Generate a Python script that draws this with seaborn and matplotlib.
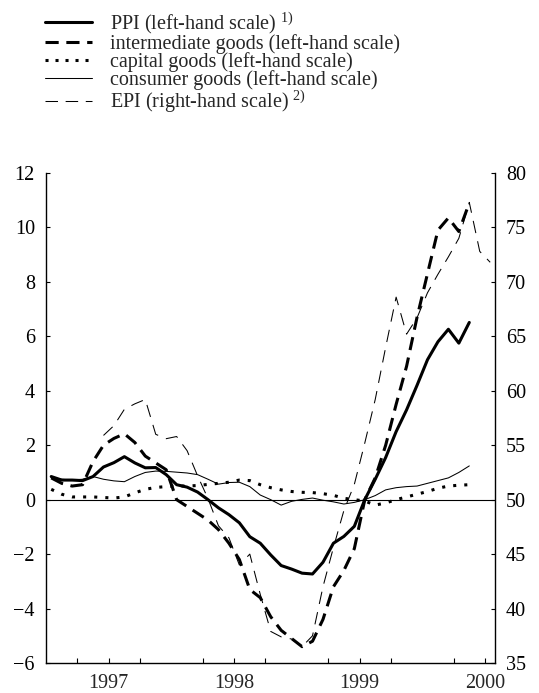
import numpy as np
import pandas as pd
import matplotlib
matplotlib.use("Agg")
import matplotlib.pyplot as plt
import seaborn as sns

# ---------------- data (monthly, Jan 1997 onward) ----------------
ppi = [0.85, 0.72, 0.72, 0.70, 0.85, 1.20, 1.36, 1.58, 1.35, 1.17, 1.18, 0.92,
       0.55, 0.46, 0.28, 0.00, -0.30, -0.55, -0.85, -1.36, -1.60, -2.03, -2.42, -2.55,
       -2.70, -2.73, -2.30, -1.60, -1.35, -0.98, 0.00, 0.75, 1.55, 2.50, 3.30, 4.20,
       5.14, 5.80, 6.26, 5.75, 6.51]
intermediate = [0.80, 0.60, 0.50, 0.55, 1.40, 2.00, 2.25, 2.42, 2.10, 1.60, 1.35, 1.10,
                0.00, -0.25, -0.50, -0.75, -1.10, -1.60, -2.20, -3.30, -3.60, -4.30, -4.80, -5.10,
                -5.40, -5.20, -4.40, -3.20, -2.60, -1.80, 0.00, 0.80, 2.00, 3.50, 4.90, 6.70,
                8.30, 9.90, 10.35, 9.85, 10.90]
capital = [0.38, 0.20, 0.10, 0.10, 0.10, 0.08, 0.06, 0.10, 0.25, 0.38, 0.45, 0.48,
           0.50, 0.50, 0.52, 0.56, 0.60, 0.64, 0.72, 0.70, 0.55, 0.44, 0.36, 0.30,
           0.27, 0.26, 0.22, 0.16, 0.05, 0.00, -0.05, -0.20, -0.12, 0.00, 0.10, 0.20,
           0.30, 0.42, 0.50, 0.53, 0.55]
consumer = [0.82, 0.75, 0.72, 0.75, 0.85, 0.75, 0.69, 0.66, 0.85, 1.00, 1.05, 1.04,
            1.01, 0.98, 0.92, 0.75, 0.57, 0.63, 0.64, 0.48, 0.17, 0.00, -0.20, -0.06,
            0.01, 0.06, -0.02, -0.08, -0.16, -0.10, 0.00, 0.15, 0.36, 0.44, 0.48, 0.50,
            0.60, 0.70, 0.80, 1.00, 1.24]
# EPI starts in June 1997
epi = [55.9, 56.8, 58.3, 58.8, 59.2, 56.0, 55.6,
       55.8, 54.5, 52.2, 50.1, 47.6, 46.5, 44.0, 45.0, 41.3, 37.9, 37.4, 37.2,
       36.5, 37.5, 42.0, 45.6, 49.0, 51.4, 55.2, 59.2, 64.0, 68.6, 65.2, 66.7,
       69.0, 70.7, 72.3, 74.0, 77.3, 72.8, 71.8]

year_labels = ["1997", "1998", "1999", "2000"]
labels = ["PPI (left-hand scale) $^{1)}$",
          "intermediate goods (left-hand scale)",
          "capital goods (left-hand scale)",
          "consumer goods (left-hand scale)",
          "EPI (right-hand scale) $^{2)}$"]

dates_left = pd.date_range("1997-01-01", periods=len(ppi), freq="MS")
dates_epi = pd.date_range("1997-06-01", periods=len(epi), freq="MS")
def dec(d):
    return d.year + (d.month - 1 + 0.5) / 12.0

df = pd.DataFrame({"t": dec(dates_left), "ppi": ppi, "inter": intermediate,
                   "cap": capital, "cons": consumer})
df_epi = pd.DataFrame({"t": dec(dates_epi), "epi": epi})

# ---------------- style ----------------
sns.set_theme(style="white")
plt.rcParams["font.family"] = ["Liberation Serif", "DejaVu Serif"]
plt.rcParams["mathtext.fontset"] = "custom"
plt.rcParams["mathtext.rm"] = "Liberation Serif"
plt.rcParams["mathtext.it"] = "Liberation Serif"
plt.rcParams["lines.scale_dashes"] = False
FS = 14.5
LFS = 14.5

fig = plt.figure(figsize=(5.39, 6.93), dpi=100)
ax = fig.add_axes([46/539, 1 - 663/693, (495-46)/539, (663-173)/693])
ax2 = ax.twinx()

thick = 2.2
thin = 0.75
dash_int = (0, (9.5, 5.5))
dot_cap = (0, (2.2, 5.8))
dash_epi = (0, (9, 6))
sns.lineplot(data=df, x="t", y="ppi", ax=ax, color="black", lw=thick, legend=False)
sns.lineplot(data=df, x="t", y="inter", ax=ax, color="black", lw=thick,
             linestyle=dash_int, dash_capstyle="butt", legend=False)
sns.lineplot(data=df, x="t", y="cap", ax=ax, color="black", lw=thick,
             linestyle=dot_cap, dash_capstyle="butt", legend=False)
sns.lineplot(data=df, x="t", y="cons", ax=ax, color="black", lw=thin, legend=False)
sns.lineplot(data=df_epi, x="t", y="epi", ax=ax2, color="black", lw=thin,
             linestyle=dash_epi, legend=False)

ax.axhline(0, color="black", lw=0.8, zorder=1)

ax.set_xlim(1997.0, 2000.58)
ax.set_ylim(-6, 12)
ax2.set_ylim(35, 80)
ax.set_yticks(np.arange(-6, 13, 2))
ax2.set_yticks(np.arange(35, 81, 5))
ax.set_xticks([1998, 1999, 2000])
ax.set_xticklabels([])
ax.set_xticks([1997 + q/4 for q in range(1, 15) if q % 4 != 0], minor=True)
ax.set_xlabel("")
ax.set_ylabel("")
ax2.set_ylabel("")

for a in (ax, ax2):
    a.spines["top"].set_visible(False)
    for s in a.spines.values():
        s.set_linewidth(1.0)
        s.set_color("black")
ax2.spines["left"].set_visible(False)
ax2.spines["bottom"].set_visible(False)
ax.spines["right"].set_visible(False)

ax.tick_params(axis="x", which="major", direction="in", length=7, width=1.0, colors="black")
ax.tick_params(axis="x", which="minor", direction="in", length=3.5, width=0.8, colors="black", bottom=True)
ax.tick_params(axis="y", direction="in", length=3, width=0.8, pad=8, labelsize=FS, colors="black")
ax2.tick_params(axis="y", direction="in", length=3, width=0.8, pad=8, labelsize=FS, colors="black")

for i, lab in enumerate(year_labels):
    ax.text(1997.5 + i, -0.022, lab, transform=ax.get_xaxis_transform(),
            ha="center", va="top", fontsize=FS)

from matplotlib.lines import Line2D
handles = [
    Line2D([], [], color="black", lw=thick),
    Line2D([], [], color="black", lw=thick, linestyle=dash_int, dash_capstyle="butt"),
    Line2D([], [], color="black", lw=thick, linestyle=(0, (2.2, 5.0)), dash_capstyle="butt"),
    Line2D([], [], color="black", lw=thin),
    Line2D([], [], color="black", lw=thin, linestyle=(0, (9, 5.5))),
]
fig.legend(handles, labels, loc="upper left", bbox_to_anchor=(45/539, 1 - 10/693),
           frameon=False, fontsize=LFS, handlelength=2.33, handletextpad=0.9,
           labelspacing=-0.08, borderpad=0, borderaxespad=0)

fig.savefig("out.png", dpi=100)
